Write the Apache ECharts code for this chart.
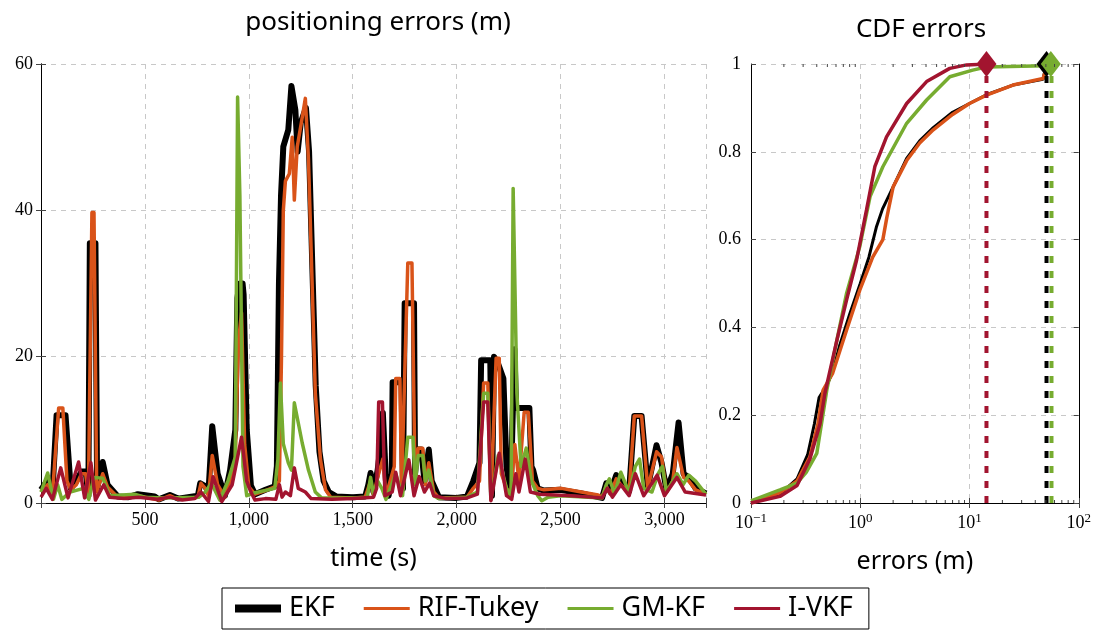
<!DOCTYPE html>
<html>
<head>
<meta charset="utf-8">
<script src="https://cdn.jsdelivr.net/npm/echarts@6/dist/echarts.min.js"></script>
<style>
  html, body { margin: 0; padding: 0; background: #fff; }
  #chart { width: 1094px; height: 633px; }
</style>
</head>
<body>
<div id="chart"></div>
<script>
// positioning errors over time, [time (s), error (m)]
const ekfErr = [[0,1.8],[32,3.1],[55,1.5],[75,12],[118,12],[143,2],[170,3],[195,4.3],[215,4.3],[228,1],[235,35.5],[262,35.5],[270,2],[297,5.6],[320,2.5],[370,0.9],[420,0.8],[466,1.2],[520,1.0],[547,0.9],[567,0.5],[620,1.1],[660,0.6],[755,1],[766,2.7],[790,2.3],[806,1.5],[824,10.5],[850,4],[885,1],[910,4.5],[935,10],[945,28],[955,30],[970,30],[975,28.5],[990,10],[1010,2.4],[1030,1.2],[1080,1.8],[1125,2.3],[1135,5],[1145,30],[1155,42],[1166,48.7],[1190,51],[1205,57],[1224,53.7],[1235,48],[1250,52],[1275,54],[1290,48],[1308,30],[1322,16],[1340,7],[1360,3],[1385,1.5],[1420,0.9],[1500,0.8],[1560,0.9],[1575,2.5],[1586,4.1],[1600,1.5],[1620,4.5],[1635,8],[1645,12.3],[1660,3],[1673,1],[1688,4],[1692,16.5],[1735,16.5],[1742,2],[1750,27.3],[1795,27.3],[1800,4],[1810,7.3],[1830,7.3],[1845,3],[1866,7.3],[1880,3],[1915,0.8],[2000,0.7],[2050,0.9],[2080,3],[2110,5.5],[2118,19.5],[2162,19.5],[2170,1],[2180,20],[2200,19],[2225,17],[2240,5],[2260,1],[2278,21],[2286,13],[2350,13],[2360,5],[2368,4.5],[2390,2],[2420,1.7],[2500,1.8],[2600,1.3],[2700,0.7],[2720,2.7],[2740,1.5],[2768,3.8],[2790,2.8],[2830,1.6],[2855,11.9],[2890,11.9],[2920,2.2],[2962,7.9],[2986,5.5],[3010,1.8],[3040,4],[3068,11],[3092,4],[3117,3.5],[3150,2],[3200,1.3]];
const rifErr = [[0,1.5],[32,2.5],[55,1.2],[85,13],[105,13],[125,3],[143,1.8],[170,2.5],[195,4],[215,4],[228,1],[245,39.7],[255,39.7],[268,1.5],[297,4],[320,2.2],[370,0.8],[466,1.0],[567,0.4],[620,1],[660,0.5],[755,0.8],[770,2.7],[790,2],[806,1],[824,6.5],[850,2.5],[885,0.8],[910,3],[935,6],[950,22],[965,26],[980,8],[1000,2.2],[1030,1.2],[1080,1.7],[1125,2.2],[1147,3],[1157,19.5],[1166,40],[1176,44],[1195,45],[1209,50],[1219,41.4],[1233,48.7],[1253,52],[1272,55.3],[1287,47],[1306,28.7],[1320,15],[1345,5.9],[1369,1.8],[1394,0.8],[1500,0.7],[1560,0.8],[1586,3],[1600,1],[1620,3.5],[1645,6],[1660,1],[1700,5],[1707,17],[1727,17],[1735,2],[1765,32.8],[1785,32.8],[1800,3],[1815,7.5],[1837,7.5],[1850,2.5],[1866,5.5],[1890,1.5],[1915,0.7],[2050,0.8],[2080,2],[2110,3],[2130,16.4],[2150,16.4],[2165,0.5],[2190,19.8],[2205,19.8],[2215,4],[2240,2],[2260,1],[2280,8],[2300,3],[2325,12.4],[2345,12.4],[2365,3],[2390,2],[2420,1.8],[2504,2],[2600,1.5],[2681,1.1],[2700,0.8],[2720,2.3],[2740,1.2],[2768,3.3],[2790,2.5],[2830,1.4],[2855,11.9],[2890,11.9],[2920,2],[2962,7],[2986,6.3],[3010,1.5],[3040,3],[3060,7.6],[3092,3.5],[3117,3],[3150,1.8],[3200,1.2]];
const gmErr = [[0,1.5],[32,4.1],[60,0.5],[80,2.5],[100,0.5],[140,1.5],[205,2],[230,0.5],[255,3.5],[297,3.4],[330,1],[450,1.2],[500,0.8],[600,0.7],[760,0.8],[790,1.5],[820,2.7],[860,0.4],[900,3],[935,6.3],[946,55.5],[955,55.5],[957,42],[965,42],[972,5],[990,1],[1030,1.4],[1125,2],[1140,6],[1152,16.4],[1166,8.1],[1190,5.5],[1205,4.5],[1219,13.7],[1257,8.2],[1287,4.5],[1320,1.5],[1350,0.7],[1500,0.7],[1570,0.8],[1586,3.5],[1600,1.2],[1620,3],[1640,2],[1660,0.5],[1707,4],[1740,1],[1765,9],[1790,9],[1800,2.5],[1815,6.5],[1837,6.5],[1850,3],[1866,4.5],[1890,1],[1915,0.6],[2050,0.8],[2100,1.5],[2130,15],[2150,15],[2165,0.5],[2200,6.5],[2240,2],[2262,1],[2272,43],[2280,43],[2290,15],[2310,5],[2335,7.5],[2360,3],[2390,1],[2410,0.3],[2440,0.8],[2500,1],[2700,0.7],[2720,2.5],[2735,3.3],[2760,1.3],[2790,4.2],[2830,1.4],[2860,5],[2880,6],[2900,2],[2940,1.5],[2970,4],[2990,5],[3010,1.5],[3060,4],[3090,2.5],[3117,3.8],[3150,3],[3200,1.2]];
const ivkfErr = [[0,0.8],[25,2],[55,0.5],[95,4.8],[130,0.7],[181,5.6],[210,0.7],[240,5.5],[262,0.4],[302,2.5],[330,0.8],[400,0.6],[470,0.8],[560,0.5],[620,0.8],[680,0.4],[740,0.6],[770,1.5],[806,0.2],[828,3.6],[870,0.2],[920,2.5],[965,9],[990,3],[1010,1.5],[1030,0.4],[1080,0.6],[1130,0.5],[1147,2.5],[1160,0.8],[1176,1.5],[1200,1],[1219,4.8],[1238,2],[1272,1.5],[1300,0.6],[1400,0.5],[1500,0.6],[1600,0.8],[1615,2],[1625,13.8],[1643,13.8],[1655,1],[1690,1.5],[1707,4.2],[1730,1],[1770,5.9],[1795,1],[1820,3.6],[1845,1.5],[1870,2.7],[1890,1],[1950,0.6],[2050,0.7],[2100,1.2],[2130,13.8],[2150,13.8],[2165,0.3],[2205,6.8],[2240,1],[2265,0.5],[2285,4],[2300,1.5],[2330,6],[2355,1.5],[2400,1.2],[2550,1],[2700,0.7],[2725,2],[2750,0.8],[2790,2.5],[2830,1],[2860,4],[2900,1],[2965,3.8],[3000,1],[3060,3.5],[3100,1.5],[3150,1.3],[3200,1.1]];

// CDF of errors, [error (m), probability]
const ekfCdf = [[0.1,0],[0.184,0.02],[0.264,0.055],[0.33,0.11],[0.38,0.18],[0.42,0.24],[0.5,0.27],[0.56,0.3],[0.65,0.36],[0.8,0.43],[1.0,0.5],[1.2,0.56],[1.41,0.63],[1.6,0.67],[2.0,0.72],[2.66,0.785],[3.5,0.825],[4.66,0.855],[7,0.89],[10,0.91],[14.3,0.93],[25,0.952],[47,0.965],[50.7,1.0]];
const rifCdf = [[0.1,0],[0.184,0.023],[0.264,0.05],[0.346,0.105],[0.41,0.18],[0.457,0.257],[0.56,0.296],[0.75,0.394],[0.99,0.485],[1.3,0.56],[1.61,0.6],[1.75,0.65],[2.0,0.72],[2.66,0.78],[3.5,0.82],[4.66,0.85],[7,0.885],[10,0.91],[14.3,0.929],[25,0.952],[47.2,0.967],[51.7,1.0]];
const gmCdf = [[0.1,0.005],[0.184,0.03],[0.264,0.045],[0.32,0.07],[0.4,0.113],[0.494,0.257],[0.61,0.37],[0.75,0.478],[0.99,0.584],[1.23,0.698],[1.61,0.766],[2.66,0.865],[4.05,0.918],[6.6,0.971],[10.7,0.986],[14.3,0.993],[30,0.995],[50,0.996],[56,1.0]];
const ivkfCdf = [[0.1,0],[0.184,0.015],[0.264,0.04],[0.346,0.1],[0.428,0.18],[0.475,0.25],[0.61,0.37],[0.75,0.463],[0.925,0.553],[1.14,0.667],[1.36,0.766],[1.74,0.834],[2.66,0.91],[4.05,0.96],[6.6,0.99],[9.4,0.998],[14.3,1.0]];

// max errors (diamonds + dashed verticals)
const ekfMax = 50.7;
const gmMax = 55.5;
const ivkfMax = 14.3;

const logMinorTicks = [0.2,0.3,0.4,0.5,0.6,0.7,0.8,0.9,2,3,4,5,6,7,8,9,20,30,40,50,60,70,80,90];

const names = ['EKF', 'RIF-Tukey', 'GM-KF', 'I-VKF'];
const colors = ['#000000', '#D95319', '#77AC30', '#A2142F'];

const serif = 'Liberation Serif';
const sans = 'Noto Sans';
const gridLine = { show: true, lineStyle: { color: '#c8c8c8', type: [5, 5], width: 1 } };
const boxLine = { show: true, lineStyle: { color: '#000', width: 1 } };
const inTick = { show: true, inside: true, length: 5, lineStyle: { color: '#444' } };

function fmtTime(v) {
    if (v === 0 || v === 3200) return '';
    return v.toLocaleString('en-US');
}
function fmtLog(v) {
    const e = Math.round(Math.log10(v));
    return '10{e|' + (e < 0 ? '\u2212' + (-e) : e) + '}';
}

function mirrorAxis(base, pos) {
    return Object.assign({}, base, {
        position: pos, name: '', axisLabel: { show: false }, splitLine: { show: false }
    });
}

const xTime = {
    type: 'value', gridIndex: 0, min: 0, max: 3200, interval: 500,
    axisLine: boxLine, axisTick: inTick, splitLine: gridLine,
    axisLabel: { formatter: fmtTime, fontFamily: serif, fontSize: 18, color: '#000', margin: 8 },
    name: 'time (s)', nameLocation: 'middle', nameGap: 43,
    nameTextStyle: { fontFamily: sans, fontSize: 25, color: '#000' }
};
const yErr = {
    type: 'value', gridIndex: 0, min: 0, max: 60, interval: 20,
    axisLine: boxLine, axisTick: inTick, splitLine: gridLine,
    axisLabel: { fontFamily: serif, fontSize: 18, color: '#000', margin: 8 }
};
const xLog = {
    type: 'log', logBase: 10, gridIndex: 1, min: 0.1, max: 100,
    axisLine: boxLine, axisTick: inTick, splitLine: gridLine,
    axisLabel: {
        formatter: fmtLog, fontFamily: serif, fontSize: 18, color: '#000', margin: 9,
        rich: { e: { fontFamily: serif, fontSize: 13, color: '#000', padding: [0, 0, 10, 0] } }
    },
    name: 'errors (m)', nameLocation: 'middle', nameGap: 46,
    nameTextStyle: { fontFamily: sans, fontSize: 25, color: '#000' }
};
const yCdf = {
    type: 'value', gridIndex: 1, min: 0, max: 1, interval: 0.2,
    axisLine: boxLine, axisTick: inTick, splitLine: gridLine,
    axisLabel: { fontFamily: serif, fontSize: 18, color: '#000', margin: 10 }
};

const timeData = [ekfErr, rifErr, gmErr, ivkfErr];
const cdfData = [ekfCdf, rifCdf, gmCdf, ivkfCdf];
const widths = [6, 3.5, 3.5, 3.5];

const series = [];
timeData.forEach((d, i) => {
    series.push({
        name: names[i], type: 'line', xAxisIndex: 0, yAxisIndex: 0,
        data: d, symbol: 'none', color: colors[i],
        lineStyle: { width: widths[i], color: colors[i], join: 'round' },
        z: 2 + i, animation: false
    });
});
cdfData.forEach((d, i) => {
    series.push({
        name: names[i], type: 'line', xAxisIndex: 2, yAxisIndex: 2,
        data: d, symbol: 'none', color: colors[i],
        lineStyle: { width: i === 0 ? 3 : 3.5, color: colors[i] },
        z: 2 + i, animation: false
    });
});
[[ekfMax, colors[0]], [gmMax + 0.8, colors[2]], [ivkfMax, colors[3]]].forEach((m, k) => {
    series.push({
        name: 'max' + k, type: 'line', xAxisIndex: 2, yAxisIndex: 2,
        data: [[m[0], 0], [m[0], 1]], symbol: 'none',
        lineStyle: { width: 4, color: m[1], type: [7, 8] },
        z: 6, animation: false
    });
});
[[ekfMax, colors[0]], [gmMax, colors[2]], [ivkfMax, colors[3]]].forEach((m, k) => {
    series.push({
        name: 'peak' + k, type: 'scatter', xAxisIndex: 2, yAxisIndex: 2,
        data: [[m[0], 1]], symbol: 'diamond', symbolSize: [20, 26],
        itemStyle: { color: m[1], opacity: 1 }, clip: false, z: 8, animation: false
    });
});
series.push({
    name: 'minor', type: 'custom', xAxisIndex: 2, yAxisIndex: 2,
    data: logMinorTicks.map(v => [v, 0]), silent: true, z: 9, animation: false,
    renderItem: function (params, api) {
        const b = api.coord([api.value(0), 0]);
        const t = api.coord([api.value(0), 1]);
        return {
            type: 'group', children: [
                { type: 'line', shape: { x1: b[0], y1: b[1], x2: b[0], y2: b[1] - 3 }, style: { stroke: '#444', lineWidth: 1 } },
                { type: 'line', shape: { x1: t[0], y1: t[1], x2: t[0], y2: t[1] + 3 }, style: { stroke: '#444', lineWidth: 1 } }
            ]
        };
    }
});

const thickIcon = 'path://M0,0H46V8H0Z';
const thinIcon = 'path://M0,0H46V3H0Z';

const chart = echarts.init(document.getElementById('chart'), null, { renderer: 'canvas' });
chart.setOption({
    backgroundColor: '#fff',
    animation: false,
    title: [
        { text: 'positioning errors (m)', left: 373, top: 5, textAlign: 'center',
          textStyle: { fontFamily: sans, fontSize: 26, fontWeight: 'normal', color: '#000' } },
        { text: 'CDF errors', left: 916, top: 12, textAlign: 'center',
          textStyle: { fontFamily: sans, fontSize: 26, fontWeight: 'normal', color: '#000' } }
    ],
    grid: [
        { left: 41, top: 64, width: 665, height: 439 },
        { left: 751, top: 64, width: 328, height: 439 }
    ],
    xAxis: [xTime, mirrorAxis(xTime, 'top'), xLog, mirrorAxis(xLog, 'top')],
    yAxis: [yErr, mirrorAxis(yErr, 'right'), yCdf, mirrorAxis(yCdf, 'right')],
    legend: {
        data: [
            { name: 'EKF', icon: thickIcon },
            { name: 'RIF-Tukey', icon: thinIcon },
            { name: 'GM-KF', icon: thinIcon },
            { name: 'I-VKF', icon: thinIcon }
        ],
        left: 222, top: 588,
        borderColor: '#000', borderWidth: 1, borderRadius: 0,
        padding: [7, 16, 7, 13],
        itemWidth: 46, itemHeight: 14, itemGap: 29,
        textStyle: { fontFamily: sans, fontSize: 27, color: '#000', padding: [0, 0, 0, 3] }
    },
    series: series
});
</script>
</body>
</html>
